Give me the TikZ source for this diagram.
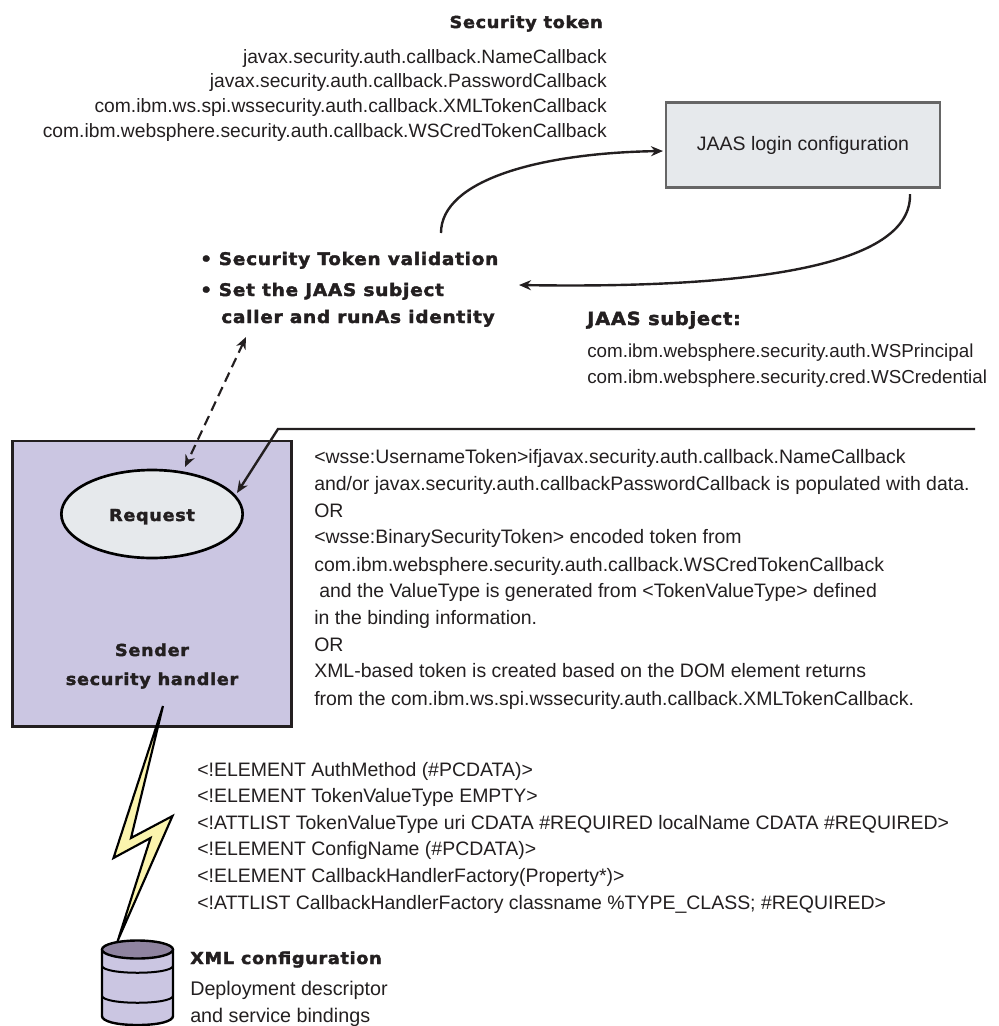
\documentclass[tikz,border=0pt]{standalone}
\usepackage{fontspec}
\setmainfont{Liberation Sans}
\newfontfamily\heavy[LetterSpace=4,FakeBold=2.2,FakeStretch=1.07]{DejaVu Sans Bold}
\usetikzlibrary{arrows.meta,shapes.geometric}
\definecolor{ink}{HTML}{231F20}
\definecolor{lav}{HTML}{CBC6E2}
\definecolor{pale}{HTML}{E6E9EC}
\definecolor{bolt}{HTML}{FBF4AD}
\definecolor{cyltop}{HTML}{8F84A0}
\tikzset{
 x=0.75pt,y=-0.75pt,
 txt/.style={inner sep=0pt,anchor=base west,font=\fontsize{14.6pt}{17pt}\selectfont,text=ink},
 txtt/.style={txt,anchor=base east,font=\fontsize{14.45pt}{17pt}\selectfont},
 txtj/.style={txt,font=\fontsize{14.1pt}{17pt}\selectfont},
 txtx/.style={txt,font=\fontsize{14.8pt}{17pt}\selectfont},
 hd/.style={inner sep=0pt,anchor=base west,font=\heavy\fontsize{12.4pt}{15pt}\selectfont,text=ink},
 hdb/.style={hd,font=\heavy\fontsize{13pt}{15pt}\selectfont},
 hdj/.style={hd,font=\heavy\fontsize{13.6pt}{15pt}\selectfont},
 hdc/.style={hd,anchor=base},
 conn/.style={draw=ink,line width=1.8pt,-{Stealth[length=9pt,width=7.5pt]}},
 dconn/.style={draw=ink,line width=1.6pt,dash pattern=on 7.5pt off 4.5pt,{Stealth[length=9pt,width=7.5pt]}-{Stealth[length=9pt,width=7.5pt]}},
}
\begin{document}
\begin{tikzpicture}
\useasboundingbox (0,0) rectangle (999,1026);
% boxes
\node[draw=black!60,line width=2pt,fill=pale,minimum width=205.5pt,minimum height=64pt,inner sep=0pt] (jaas) at (803,145) {};
\node[txt,anchor=base] (jaastxt) at (803,150) {JAAS login configuration};
\node[draw=ink,line width=2pt,fill=lav,minimum width=209pt,minimum height=214pt,inner sep=0pt] (sender) at (152,583.5) {};
\node[draw=black,line width=2pt,fill=pale,ellipse,minimum width=136pt,minimum height=66pt,inner sep=0pt] (req) at (152,514) {};
\node[hdc] (reqt) at (152,521) {Request};
\node[hdc] (s1) at (152,656) {Sender};
\node[hdc] (s2) at (152,685) {security handler};
% top text
\node[hd,anchor=base east] (sectitle) at (603,28) {Security token};
\node[txtt] (t1) at (607,63) {javax.security.auth.callback.NameCallback};
\node[txtt] (t2) at (607,87) {javax.security.auth.callback.PasswordCallback};
\node[txtt] (t3) at (607,112) {com.ibm.ws.spi.wssecurity.auth.callback.XMLTokenCallback};
\node[txtt] (t4) at (607,137) {com.ibm.websphere.security.auth.callback.WSCredTokenCallback};
% bullets
\node[hdb] (b1) at (200,265) {•\hspace{5pt}Security Token validation};
\node[hdb] (b2) at (200,296) {•\hspace{5pt}Set the JAAS subject};
\node[hdb] (b3) at (221,323) {caller and runAs identity};
% JAAS subject
\node[hdj] (js) at (587,325) {JAAS subject:};
\node[txtj] (j1) at (587,357) {com.ibm.websphere.security.auth.WSPrincipal};
\node[txtj] (j2) at (587,383) {com.ibm.websphere.security.cred.WSCredential};
% explanation
\node[txt] (e1) at (314,463) {<wsse:UsernameToken>ifjavax.security.auth.callback.NameCallback};
\node[txt] (e2) at (314,490) {and/or javax.security.auth.callbackPasswordCallback is populated with data.};
\node[txt] (e3) at (314,517) {OR};
\node[txt] (e4) at (314,543) {<wsse:BinarySecurityToken> encoded token from};
\node[txt] (e5) at (314,571) {com.ibm.websphere.security.auth.callback.WSCredTokenCallback};
\node[txt] (e6) at (319,597) {and the ValueType is generated from <TokenValueType> defined};
\node[txt] (e7) at (314,624) {in the binding information.};
\node[txt] (e8) at (314,651) {OR};
\node[txt] (e9) at (314,677) {XML-based token is created based on the DOM element returns};
\node[txt] (e10) at (314,705) {from the com.ibm.ws.spi.wssecurity.auth.callback.XMLTokenCallback.};
% DTD
\node[txt] (d1) at (197,776) {<!ELEMENT AuthMethod (\#PCDATA)>};
\node[txt] (d2) at (197,802) {<!ELEMENT TokenValueType EMPTY>};
\node[txt] (d3) at (197,829) {<!ATTLIST TokenValueType uri CDATA \#REQUIRED localName CDATA \#REQUIRED>};
\node[txt] (d4) at (197,855) {<!ELEMENT ConfigName (\#PCDATA)>};
\node[txt] (d5) at (197,882) {<!ELEMENT CallbackHandlerFactory(Property*)>};
\node[txt] (d6) at (197,909) {<!ATTLIST CallbackHandlerFactory classname \%TYPE\_CLASS; \#REQUIRED>};
% XML config
\node[hd] (x1) at (190,964) {XML configuration};
\node[txtx] (x2) at (190,995) {Deployment descriptor};
\node[txtx] (x3) at (190,1022) {and service bindings};
% lightning
\draw[draw=black,line width=1.6pt,fill=bolt,line join=miter,miter limit=20] (163,706) -- (113.5,858) -- (150.5,838) -- (118,940) -- (172.5,816) -- (131,838) -- cycle;
% cylinder
\draw[draw=black,line width=1.8pt,fill=lav,line join=round] (102,950) -- (102,1016) .. controls (102,1021) and (115,1025) .. (137.5,1025) .. controls (160,1025) and (173,1021) .. (173,1016) -- (173,950) -- cycle;
\draw[black,line width=1.5pt] (102,966) .. controls (104,975) and (171,975) .. (173,966);
\draw[black,line width=1.5pt] (102,996) .. controls (104,1005) and (171,1005) .. (173,996);
\draw[draw=black,line width=1.8pt,fill=cyltop] (137.5,949.5) ellipse [x radius=35.5,y radius=9];
% connectors
\coordinate (c1) at (441,233);
\coordinate (c1e) at (663,151);
\coordinate (c2) at (910,194);
\coordinate (c2e) at (519,285);
\coordinate (c3) at (975,429);
\coordinate (c3m) at (278,429);
\coordinate (c3e) at (237,493);
\coordinate (c4) at (246,337);
\coordinate (c4e) at (185,467);
\path[conn] (c1) .. controls (441,180) and (540,153) .. (c1e);
\path[conn] (c2) .. controls (912,262) and (770,289) .. (c2e);
\path[conn] (c3) -- (c3m) -- (c3e);
\path[dconn] (c4) -- (c4e);
\end{tikzpicture}
\end{document}
